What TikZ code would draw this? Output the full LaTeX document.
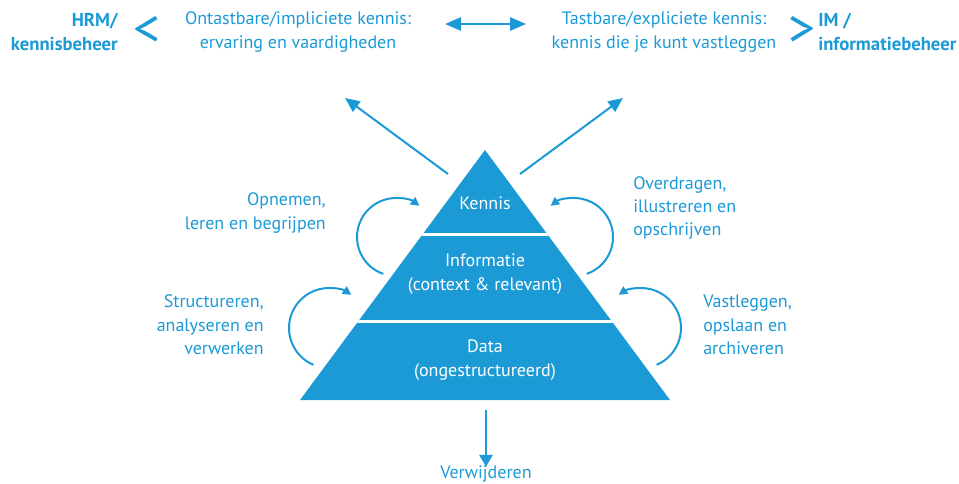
\documentclass[tikz,border=0pt]{standalone}
\usepackage{fontspec}
\setmainfont{PT Sans}
\usetikzlibrary{arrows.meta}
\definecolor{kblue}{HTML}{1B9AD6}
\tikzset{
  lbl/.style={text=kblue, font=\fontsize{13.5}{17.5}\selectfont, inner sep=0pt},
  boldlbl/.style={text=kblue, font=\fontsize{14}{18}\selectfont\bfseries, inner sep=0pt},
  inlbl/.style={text=white, font=\fontsize{13.5}{17.5}\selectfont, inner sep=0pt, align=center},
  bigsign/.style={text=kblue, font=\fontsize{40}{40}\selectfont, inner sep=0pt},
  conn/.style={draw=kblue, line width=1.5pt},
  bigtip/.style={-{Triangle[length=11pt,width=9.5pt]}},
  curv/.style={draw=kblue, line width=1.5pt, -{Triangle[length=6.5pt,width=6.5pt]}},
}
\begin{document}
\begin{tikzpicture}[x=0.75pt,y=-0.75pt]
\useasboundingbox (0,0) rectangle (959,483);

% top texts
\node[boldlbl, anchor=east, align=right] (hrm) at (118,32) {HRM/\\kennisbeheer};
\node[bigsign] (lt) at (147,31) {<};
\node[lbl, align=center] (ont) at (298,32) {Ontastbare/impliciete kennis:\\ervaring en vaardigheden};
\node[lbl, align=center] (tast) at (664,32) {Tastbare/expliciete kennis:\\kennis die je kunt vastleggen};
\node[bigsign] (gt) at (802,31) {>};
\node[boldlbl, anchor=west, align=left] (im) at (818,32) {IM /\\informatiebeheer};

% double arrow
\coordinate (dl) at (445,24);
\coordinate (dr) at (526,24);
\draw[conn, {Triangle[length=12pt,width=10pt]}-{Triangle[length=12pt,width=10pt]}] (dl) -- (dr);

% pyramid
\coordinate (apex) at (485,150);
\coordinate (bl) at (300,400);
\coordinate (br) at (670,400);
\fill[kblue] (bl) -- (apex) -- (br) -- cycle;
\begin{scope}
  \clip (bl) -- (apex) -- (br) -- cycle;
  \draw[white, line width=2.2pt] (280,234.5) -- (690,234.5);
  \draw[white, line width=2.2pt] (280,321.5) -- (690,321.5);
\end{scope}
\node[inlbl] (kennis) at (485,203) {Kennis};
\node[inlbl] (info) at (485,274) {Informatie\\(context \& relevant)};
\node[inlbl] (data) at (485,360) {Data\\(ongestructureerd)};

% diagonal arrows
\coordinate (dls) at (448,174);
\coordinate (dle) at (345,98);
\coordinate (drs) at (520,174);
\coordinate (dre) at (623,98);
\draw[conn, bigtip] (dls) -- (dle);
\draw[conn, bigtip] (drs) -- (dre);

% bottom arrow
\coordinate (bs) at (486,410);
\node[lbl] (verw) at (486,474) {Verwijderen};
\draw[conn, -{Triangle[length=9pt,width=10pt]}] (bs) -- ([yshift=-1pt]verw.north);

% side labels
\node[lbl, anchor=east, align=right] (opn) at (326,213) {Opnemen,\\leren en begrijpen};
\node[lbl, anchor=east, align=right] (struc) at (264,325) {Structureren,\\analyseren en\\verwerken};
\node[lbl, anchor=west, align=left] (over) at (633,208) {Overdragen,\\illustreren en\\opschrijven};
\node[lbl, anchor=west, align=left] (vast) at (703,325) {Vastleggen,\\opslaan en\\archiveren};

% curved arrows
\coordinate (c1) at (396,237);
\coordinate (c2) at (329,328);
\coordinate (c3) at (574,237);
\coordinate (c4) at (641,328);
\draw[curv] (c1) ++(109:39) arc[start angle=109, end angle=307, radius=39];
\draw[curv] (c2) ++(113:40) arc[start angle=113, end angle=304, radius=40];
\draw[curv] (c3) ++(71:39) arc[start angle=71, end angle=-127, radius=39];
\draw[curv] (c4) ++(67:40) arc[start angle=67, end angle=-124, radius=40];
\end{tikzpicture}
\end{document}
